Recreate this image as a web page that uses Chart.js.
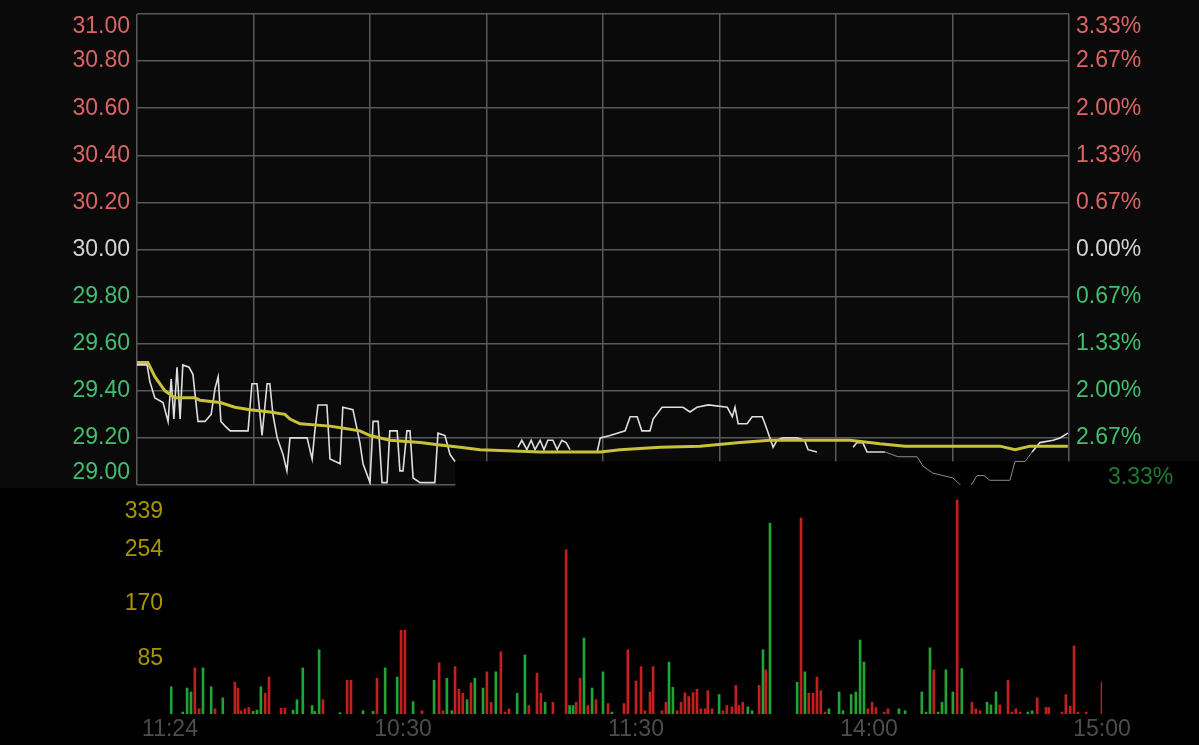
<!DOCTYPE html>
<html><head><meta charset="utf-8">
<script src="https://cdn.jsdelivr.net/npm/chart.js@4/dist/chart.umd.min.js"></script>
<style>
html,body{margin:0;padding:0;background:#000;width:1199px;height:745px;overflow:hidden}
#top{position:absolute;left:0;top:0;width:1199px;height:488px;background:#0a0a0a}
#bot{position:absolute;left:0;top:488px;width:1199px;height:257px;background:#000}
canvas{display:block}
</style></head><body>
<div id="top"><canvas id="c1" width="1199" height="488"></canvas></div>
<div id="bot"><canvas id="c2" width="1199" height="257"></canvas></div>
<script>
// ---- tick labels ----
const priceTicks  = [31.00,30.80,30.60,30.40,30.20,30.00,29.80,29.60,29.40,29.20,29.00];
const priceLabels = ['31.00','30.80','30.60','30.40','30.20','30.00','29.80','29.60','29.40','29.20','29.00'];
const pctLabels   = ['3.33%','2.67%','2.00%','1.33%','0.67%','0.00%','0.67%','1.33%','2.00%','2.67%','3.33%'];
const volTicks    = [339,254,170,85];
const xTickMinutes = [0,60,120,180,240];
const xTickLabels  = ['11:24','10:30','11:30','14:00','15:00'];

// ---- price line (minute of session, price) ----
const priceMinutes = [0,2.6,3.3,4.6,6.7,8.0,8.8,9.5,10.3,11.1,11.8,13.4,14.4,15.7,17.5,19.1,20.1,20.9,21.6,22.7,
24.0,28.6,29.6,30.9,32.2,33.5,34.2,35.0,36.1,37.6,38.6,39.4,43.8,45.1,45.8,46.6,48.9,49.7,52.3,53.0,
55.6,57.4,58.2,60.0,60.8,62.1,63.1,64.4,65.1,67.0,67.7,68.5,69.5,70.3,71.1,72.9,76.7,77.5,79.3,80.6,
81.9,90.0,98.1,99.1,100.4,101.5,102.5,103.8,104.8,105.8,107.1,108.2,109.4,110.5,111.5,114.8,118.5,119.3,121.8,125.7,
127.0,128.8,130.0,132.1,132.9,135.2,140.6,142.4,144.2,147.1,152.0,153.3,154.0,154.8,157.1,158.4,161.0,161.7,163.0,163.8,
164.8,166.3,169.9,171.9,172.8,175.1,179.7,184.4,185.4,186.9,188.0,190.6,192.6,196.0,200.9,202.4,205.0,210.1,212.7,214.5,
216.3,218.1,219.6,224.8,226.1,228.7,230.5,232.5,235.9,237.7,239.7];
const priceValues = [29.51,29.51,29.44,29.37,29.35,29.27,29.45,29.28,29.50,29.28,29.51,29.50,29.47,29.27,29.27,29.30,29.41,29.46,29.27,29.25,
29.23,29.23,29.43,29.43,29.21,29.43,29.43,29.30,29.20,29.13,29.06,29.20,29.20,29.11,29.23,29.34,29.34,29.11,29.09,29.33,
29.32,29.18,29.09,29.01,29.27,29.27,29.01,29.01,29.23,29.23,29.06,29.06,29.23,29.23,29.03,29.01,29.01,29.22,29.21,29.13,
29.10,null,29.16,29.19,29.15,29.19,29.15,29.19,29.15,29.19,29.19,29.15,29.19,29.18,29.15,null,29.14,29.20,29.21,29.23,
29.29,29.29,29.23,29.23,29.28,29.33,29.33,29.31,29.33,29.34,29.33,29.29,29.33,29.26,29.26,29.29,29.29,29.26,29.20,29.16,
29.19,29.20,29.20,29.19,29.15,29.14,null,29.16,29.18,29.18,29.14,29.14,29.14,29.12,29.12,29.08,29.05,29.03,28.99,28.99,
29.04,29.04,29.02,29.02,29.10,29.10,29.14,29.18,29.19,29.20,29.22];

// ---- average price line ----
const avgMinutes = [0,2.8,4.6,7.2,9.8,14.9,16.2,21.4,25.2,29.1,34.2,38.1,39.4,42.0,49.7,53.6,57.4,60.0,65.1,72.9,
78.0,83.2,88.3,103.8,119.3,124.4,134.7,145.0,155.3,163.0,183.6,191.3,197.8,222.2,226.1,230.0,239.7];
const avgValues = [29.52,29.52,29.46,29.40,29.37,29.37,29.36,29.35,29.33,29.32,29.31,29.30,29.28,29.26,29.25,29.24,29.23,29.21,29.19,29.18,
29.17,29.16,29.15,29.14,29.14,29.15,29.16,29.165,29.18,29.19,29.19,29.175,29.165,29.165,29.15,29.165,29.165];

// ---- volume bars (minute, volume, 1 = up/red, 0 = down/green) ----
const volMinutes = [0.3,3.3,4.4,5.4,6.4,7.5,8.5,10.6,11.6,13.6,
16.7,17.5,18.3,19.3,20.3,21.4,22.4,23.4,24.5,25.5,
28.6,29.6,31.7,32.7,34.2,36.6,37.3,38.4,39.4,43.8,
45.6,46.6,49.7,52.3,53.3,55.4,58.5,59.5,60.5,62.6,
64.9,68.0,69.3,70.3,71.3,72.6,73.4,74.4,75.4,76.5,
77.5,78.5,80.6,81.6,82.7,83.9,85.2,86.3,87.3,89.4,
91.4,92.4,94.5,95.5,96.6,98.6,102.0,102.9,103.8,104.6,
105.6,106.6,107.6,108.7,109.7,111.5,112.8,113.8,116.9,117.9,
120.0,121.3,122.3,123.6,124.4,126.7,127.7,128.5,129.5,130.6,
131.6,132.6,133.6,134.7,135.7,136.7,137.8,138.5,139.6,141.4,
142.4,143.4,144.7,145.7,146.5,147.5,148.8,149.9,151.7,152.7,
153.4,154.5,161.5,162.5,163.5,164.5,165.6,166.6,167.6,168.7,
169.7,172.3,173.3,175.4,176.6,177.7,178.7,179.7,180.8,181.8,
183.9,184.9,187.7,189.3,193.6,194.7,195.7,196.7,197.8,198.8,
199.8,201.6,202.7,203.9,206.5,207.5,208.6,210.4,211.4,212.7,
213.7,215.8,216.8,217.8,218.9,220.9,222.0,223.3,225.6,226.3,
229.7,230.7,231.8,232.8,233.8,235.9,240.0];
const volValues = [42,3,40,34,71,8,71,42,8,25,
49,40,5,8,10,4,6,42,32,57,
9,9,6,22,71,13,4,99,22,2,
52,52,5,4,55,71,57,129,129,19,
5,52,79,5,55,5,73,38,32,22,
48,55,40,65,18,65,96,3,8,32,
91,13,63,32,18,18,253,13,13,18,
55,117,13,40,22,65,16,3,16,99,
51,73,5,34,73,5,18,80,41,5,
18,33,27,33,38,8,8,36,8,30,
5,13,11,44,13,18,11,5,44,99,
68,294,49,302,65,32,32,57,36,3,
8,34,5,30,34,114,80,8,18,10,
3,8,8,5,34,3,102,68,3,18,
68,34,330,70,18,8,5,18,14,34,
14,52,3,8,3,3,5,25,10,10,
3,30,12,105,3,3,49];
const volUp = [0,0,0,0,1,1,0,0,1,0,
1,1,1,1,1,0,0,0,1,1,
1,1,0,0,0,0,0,0,1,0,
1,1,0,0,1,0,0,1,1,0,
1,0,1,1,0,0,1,1,1,0,
1,0,0,1,1,0,1,1,1,0,
0,1,1,1,0,1,1,0,0,1,
1,0,1,0,1,0,1,0,1,1,
1,1,1,1,1,1,1,0,0,1,
1,1,1,1,1,1,1,1,1,0,
1,1,1,1,1,1,0,0,1,0,
1,0,0,1,0,1,1,1,1,1,
0,0,0,0,0,0,0,1,1,1,
1,1,0,0,0,0,0,1,0,0,
0,0,1,0,1,1,1,0,0,0,
1,1,1,1,1,0,0,1,1,1,
1,1,1,1,1,1,1];

const FONT = "'Liberation Sans', Arial, Helvetica, sans-serif";
const GRID = '#595959';

function priceColor(v){
  if (v > 30.0001) return '#dc6464';
  if (v < 29.9999) return '#3fbf6f';
  return '#d4d4d4';
}

// black glitch band at the bottom right of the price panel
const bandPlugin = {
  id: 'band',
  beforeDatasetsDraw(chart){
    const {ctx, scales:{x, y}} = chart;
    const x0 = x.getPixelForValue(82);
    const y0 = y.getPixelForValue(29.10);
    ctx.save();
    ctx.fillStyle = '#000';
    ctx.fillRect(x0, y0, chart.width - x0, chart.height - y0);
    ctx.restore();
  }
};

const priceLabelPlugin = {
  id: 'priceLabels',
  afterDraw(chart){
    const {ctx, scales:{y}, chartArea} = chart;
    ctx.save();
    ctx.font = '23px ' + FONT;
    ctx.textBaseline = 'middle';
    const last = priceTicks.length - 1;
    priceTicks.forEach((v, i) => {
      let py = y.getPixelForValue(v);
      if (i === 0) py += 13;
      if (i === last) py -= 12;
      ctx.fillStyle = priceColor(v);
      ctx.textAlign = 'right';
      ctx.fillText(priceLabels[i], chartArea.left - 7, py);
      ctx.textAlign = 'left';
      if (i === last) {
        ctx.fillStyle = '#1d7a31';
        ctx.fillText(pctLabels[i], chartArea.right + 39, y.getPixelForValue(v) - 7);
      } else {
        ctx.fillText(pctLabels[i], chartArea.right + 7, py);
      }
    });
    ctx.restore();
  }
};

const volLabelPlugin = {
  id: 'volLabels',
  afterDraw(chart){
    const {ctx, scales:{y}, chartArea} = chart;
    ctx.save();
    ctx.font = '23px ' + FONT;
    ctx.textBaseline = 'middle';
    ctx.textAlign = 'right';
    ctx.fillStyle = '#a89500';
    volTicks.forEach((v, i) => {
      let py = y.getPixelForValue(v);
      if (i === 0) py += 18;
      ctx.fillText(String(v), chartArea.left - 7, py);
    });
    ctx.restore();
  }
};

const dimSeg = (c) => (c.p0.parsed.x >= 192 && c.p1.parsed.x <= 230.6) ? '#8a8a8a' : undefined;
const dimW = (c) => (c.p0.parsed.x >= 192 && c.p1.parsed.x <= 230.6) ? 1 : undefined;

new Chart(document.getElementById('c1'), {
  type: 'line',
  data: {
    datasets: [
      {
        label: 'avg',
        data: avgMinutes.map((m, i) => ({x: m, y: avgValues[i]})),
        borderColor: '#c8c13a',
        borderWidth: 3,
        pointRadius: 0,
        tension: 0,
        order: 0
      },
      {
        label: 'price',
        data: priceMinutes.map((m, i) => ({x: m, y: priceValues[i]})),
        borderColor: '#dedede',
        borderWidth: 1.6,
        pointRadius: 0,
        tension: 0,
        spanGaps: false,
        order: 1,
        segment: {borderColor: dimSeg, borderWidth: dimW}
      }
    ]
  },
  options: {
    responsive: false,
    animation: false,
    events: [],
    layout: {padding: {top: 14, right: 130, bottom: 3, left: 0}},
    plugins: {legend: {display: false}, tooltip: {enabled: false}},
    scales: {
      x: {
        type: 'linear', min: 0, max: 240,
        ticks: {display: false, stepSize: 30},
        grid: {color: GRID, lineWidth: 1.5, drawTicks: false},
        border: {display: false},
        afterFit(s){ s.height = 0; }
      },
      y: {
        type: 'linear', min: 29, max: 31,
        afterBuildTicks(s){ s.ticks = priceTicks.map(v => ({value: v})); },
        ticks: {display: false},
        grid: {color: GRID, lineWidth: 1.5, drawTicks: false},
        border: {display: false},
        afterFit(s){ s.width = 137; }
      }
    }
  },
  plugins: [bandPlugin, priceLabelPlugin]
});

new Chart(document.getElementById('c2'), {
  type: 'bar',
  data: {
    datasets: [{
      data: volMinutes.map((m, i) => ({x: m, y: volValues[i]})),
      backgroundColor: volUp.map(u => u ? '#c41f1f' : '#22a336'),
      borderWidth: 0,
      barThickness: 2
    }]
  },
  options: {
    responsive: false,
    animation: false,
    events: [],
    layout: {padding: {top: 6, right: 97, bottom: 0, left: 0}},
    plugins: {legend: {display: false}, tooltip: {enabled: false}},
    scales: {
      x: {
        type: 'linear', min: 0, max: 240, offset: false,
        afterBuildTicks(s){ s.ticks = xTickMinutes.map(v => ({value: v})); },
        ticks: {
          callback: (v, i) => xTickLabels[i],
          color: '#4d4d4d',
          font: {size: 23, family: FONT},
          padding: 2, maxRotation: 0, autoSkip: false
        },
        grid: {display: false, drawTicks: false},
        border: {display: false},
        afterFit(s){ s.height = 31; }
      },
      y: {
        type: 'linear', min: 0, max: 339,
        ticks: {display: false},
        grid: {display: false, drawTicks: false},
        border: {display: false},
        afterFit(s){ s.width = 170; }
      }
    }
  },
  plugins: [volLabelPlugin]
});
</script>
</body></html>
